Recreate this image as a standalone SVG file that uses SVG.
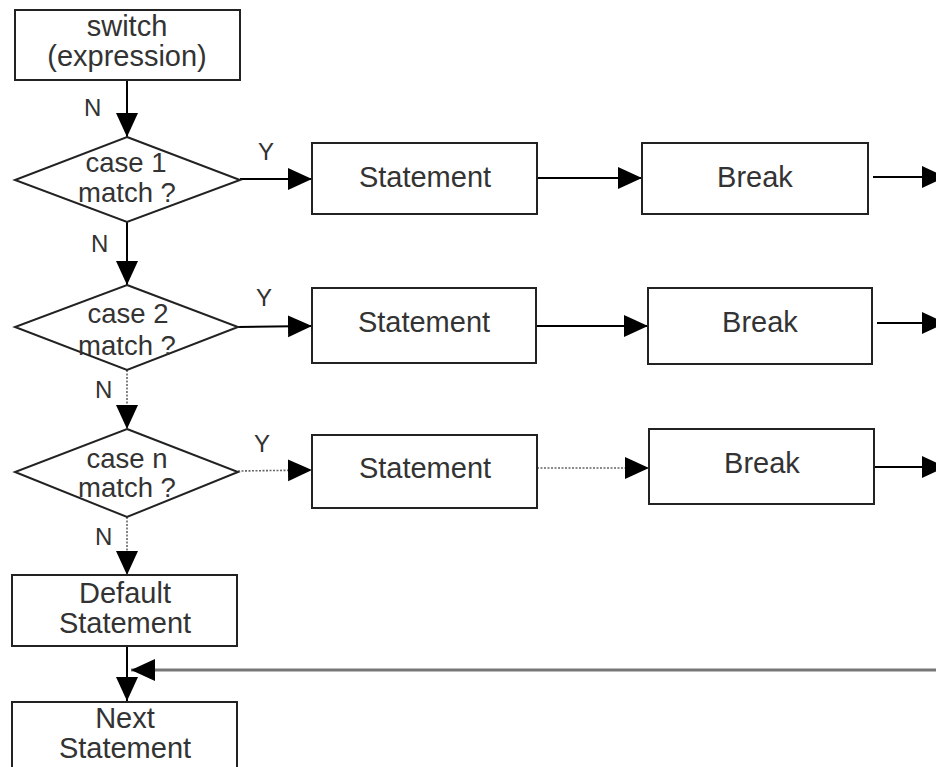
<svg xmlns="http://www.w3.org/2000/svg" width="936" height="767" viewBox="0 0 936 767">
<defs>
<marker id="ah" markerUnits="userSpaceOnUse" markerWidth="25" markerHeight="24" refX="24" refY="12" orient="auto" viewBox="0 0 25 24">
<path d="M0,1 L24,12 L0,23 z" fill="#000"/>
</marker>
<style>
.box{fill:#fff;stroke:#222;stroke-width:2}
.t{font-family:"Liberation Sans",Arial,sans-serif;font-size:29px;fill:#333;text-anchor:middle}
.d{font-size:27.5px}
.lbl{font-family:"Liberation Sans",Arial,sans-serif;font-size:24px;fill:#333}
.c{fill:none;stroke:#000;stroke-width:2;marker-end:url(#ah)}
.dot{fill:none;stroke:#666;stroke-width:1.6;stroke-dasharray:2 1.5;marker-end:url(#ah)}
.ret{fill:none;stroke:#777;stroke-width:3;marker-end:url(#ah)}
</style>
</defs>
<rect width="936" height="767" fill="#fff"/>
<g id="connectors">
<line class="c" x1="127" y1="80" x2="127" y2="137"/>
<line class="c" x1="127" y1="222" x2="127" y2="285"/>
<line class="dot" x1="127" y1="370" x2="127" y2="429"/>
<line class="dot" x1="127" y1="517" x2="127" y2="575"/>
<line class="c" x1="127" y1="646" x2="127" y2="701"/>
<line class="c" x1="240" y1="179" x2="312" y2="179"/>
<line class="c" x1="537" y1="178" x2="642" y2="178"/>
<line class="c" x1="873" y1="177" x2="946" y2="177"/>
<line class="c" x1="238" y1="327" x2="312" y2="326"/>
<line class="c" x1="536" y1="326" x2="648" y2="326"/>
<line class="c" x1="877" y1="323" x2="946" y2="323"/>
<line class="dot" x1="238" y1="471" x2="312" y2="470"/>
<line class="dot" x1="537" y1="468" x2="649" y2="468"/>
<line class="c" x1="874" y1="467" x2="946" y2="467"/>
<line class="ret" x1="936" y1="670" x2="131" y2="670"/>
<text class="lbl" x="84" y="116">N</text>
<text class="lbl" x="91" y="252">N</text>
<text class="lbl" x="95" y="398">N</text>
<text class="lbl" x="95" y="545">N</text>
<text class="lbl" x="258" y="160">Y</text>
<text class="lbl" x="256" y="306">Y</text>
<text class="lbl" x="254" y="452">Y</text>
</g>
<g id="switch">
<rect class="box" x="15" y="10" width="225" height="70"/>
<text class="t" x="127" y="36">switch</text>
<text class="t" x="127" y="66">(expression)</text>
</g>
<g id="case1">
<polygon class="box" points="127,137 240,180 127,222 15,180"/>
<text class="t d" x="126" y="172">case 1</text>
<text class="t d" x="127" y="202">match ?</text>
</g>
<g id="case2">
<polygon class="box" points="127,285 238,327 127,370 15,327"/>
<text class="t d" x="128" y="323">case 2</text>
<text class="t d" x="127" y="355">match ?</text>
</g>
<g id="casen">
<polygon class="box" points="127,429 238,472 127,517 15,472"/>
<text class="t d" x="127" y="468">case n</text>
<text class="t d" x="127" y="497">match ?</text>
</g>
<g id="stmt1">
<rect class="box" x="312" y="143" width="225" height="71"/>
<text class="t" x="425" y="187">Statement</text>
</g>
<g id="break1">
<rect class="box" x="642" y="143" width="226" height="71"/>
<text class="t" x="755" y="187">Break</text>
</g>
<g id="stmt2">
<rect class="box" x="312" y="288" width="224" height="75"/>
<text class="t" x="424" y="332">Statement</text>
</g>
<g id="break2">
<rect class="box" x="648" y="288" width="224" height="76"/>
<text class="t" x="760" y="332">Break</text>
</g>
<g id="stmtn">
<rect class="box" x="312" y="435" width="225" height="73"/>
<text class="t" x="425" y="478">Statement</text>
</g>
<g id="breakn">
<rect class="box" x="649" y="429" width="225" height="75"/>
<text class="t" x="762" y="473">Break</text>
</g>
<g id="default">
<rect class="box" x="12" y="575" width="225" height="71"/>
<text class="t" x="125" y="603">Default</text>
<text class="t" x="125" y="633">Statement</text>
</g>
<g id="next">
<rect class="box" x="12" y="702" width="225" height="75"/>
<text class="t" x="125" y="728">Next</text>
<text class="t" x="125" y="758">Statement</text>
</g>
</svg>
